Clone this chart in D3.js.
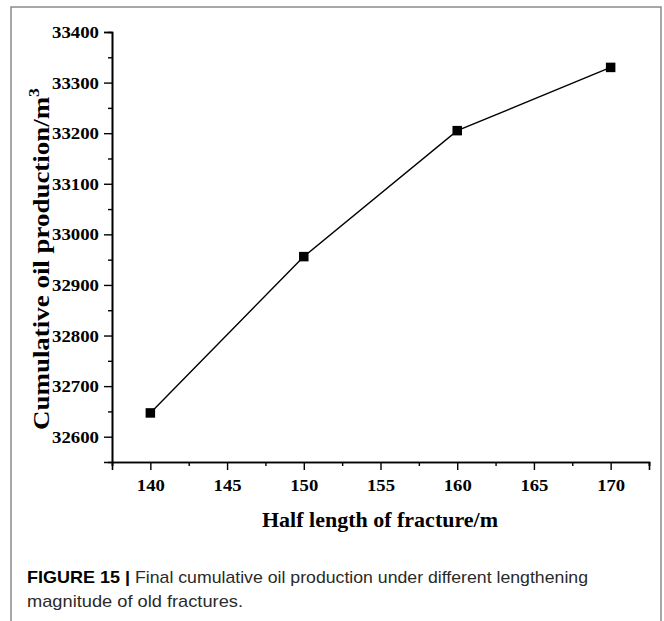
<!DOCTYPE html>
<html>
<head>
<meta charset="utf-8">
<script src="https://cdn.jsdelivr.net/npm/d3@7"></script>
<style>
  html, body { margin: 0; padding: 0; background: #fff; }
  svg { display: block; }
</style>
</head>
<body>
<svg id="chart" width="664" height="621"></svg>
<script>
// Fracture half length (m) and final cumulative oil production (m^3)
const halfLengths = [140, 150, 160, 170];
const cumulativeOil = [32647, 32956, 33205, 33330];
const xTicks = [140, 145, 150, 155, 160, 165, 170];
const yTicks = [32600, 32700, 32800, 32900, 33000, 33100, 33200, 33300, 33400];
const xMinorTicks = [137.5, 142.5, 147.5, 152.5, 157.5, 162.5, 167.5, 172.5];
const yMinorTicks = [32650, 32750, 32850, 32950, 33050, 33150, 33250, 33350];

const svg = d3.select("#chart");
const serif = "'Times New Roman', 'Liberation Serif', serif";
const sans = "Arial, 'Liberation Sans', Helvetica, sans-serif";

// Outer figure frame
svg.append("rect")
  .attr("x", 11).attr("y", 7)
  .attr("width", 650).attr("height", 640)
  .attr("fill", "none")
  .attr("stroke", "#8a8a8a")
  .attr("stroke-width", 1.5);

const x = d3.scaleLinear().domain([137.5, 172.5]).range([112, 649]);
const y = d3.scaleLinear().domain([32550, 33400]).range([462, 32]);

// Minor ticks (unlabelled)
const xMinor = svg.append("g")
  .attr("transform", `translate(0,${y.range()[0]})`)
  .call(d3.axisBottom(x).tickValues(xMinorTicks).tickSize(4).tickFormat(""));
const yMinor = svg.append("g")
  .attr("transform", `translate(${x.range()[0]},0)`)
  .call(d3.axisLeft(y).tickValues(yMinorTicks).tickSize(4).tickFormat(""));

// Major axes
const xAxis = svg.append("g")
  .attr("transform", `translate(0,${y.range()[0]})`)
  .call(d3.axisBottom(x).tickValues(xTicks).tickSize(8).tickPadding(9).tickFormat(d3.format("d")));
const yAxis = svg.append("g")
  .attr("transform", `translate(${x.range()[0]},0)`)
  .call(d3.axisLeft(y).tickValues(yTicks).tickSize(8).tickPadding(5).tickFormat(d3.format("d")));

[xMinor, yMinor, xAxis, yAxis].forEach(g => {
  g.selectAll("path.domain").attr("stroke", "#000").attr("stroke-width", 1.6);
  g.selectAll(".tick line").attr("stroke", "#000").attr("stroke-width", 1.4);
});

xAxis.selectAll(".tick text")
  .attr("font-family", serif).attr("font-weight", "bold")
  .attr("font-size", 17.5).attr("fill", "#000")
  .attr("textLength", 28).attr("lengthAdjust", "spacingAndGlyphs");
yAxis.selectAll(".tick text")
  .attr("font-family", serif).attr("font-weight", "bold")
  .attr("font-size", 17.5).attr("fill", "#000")
  .attr("textLength", 47).attr("lengthAdjust", "spacingAndGlyphs");

// Series line and square markers
const pts = halfLengths.map((h, i) => [h, cumulativeOil[i]]);
svg.append("path")
  .datum(pts)
  .attr("fill", "none")
  .attr("stroke", "#000")
  .attr("stroke-width", 1.4)
  .attr("d", d3.line().x(d => x(d[0])).y(d => y(d[1])));

const s = 9.5;
svg.selectAll("rect.marker")
  .data(pts)
  .join("rect")
  .attr("class", "marker")
  .attr("x", d => x(d[0]) - s / 2)
  .attr("y", d => y(d[1]) - s / 2)
  .attr("width", s).attr("height", s)
  .attr("fill", "#000");

// Axis titles
svg.append("text")
  .attr("x", 380).attr("y", 527)
  .attr("text-anchor", "middle")
  .attr("font-family", serif).attr("font-weight", "bold")
  .attr("font-size", 22).attr("fill", "#000")
  .text("Half length of fracture/m");

const yTitle = svg.append("text")
  .attr("text-anchor", "middle")
  .attr("font-family", serif).attr("font-weight", "bold")
  .attr("font-size", 23).attr("fill", "#000");
yTitle.append("tspan").text("Cumulative oil production/m");
yTitle.append("tspan").attr("font-size", 15).attr("dy", -10).text("3");
// stretch the rotated title along its run to span the axis height
const natural = yTitle.node().getBBox().width;
const stretch = 342 / natural;
yTitle.attr("transform", `translate(49,259) rotate(-90) scale(${stretch},1)`);

// Caption
svg.append("text")
  .attr("x", 27).attr("y", 583)
  .attr("font-family", sans).attr("font-weight", "bold")
  .attr("font-size", 17).attr("fill", "#000")
  .attr("textLength", 103).attr("lengthAdjust", "spacingAndGlyphs")
  .text("FIGURE 15 |");
svg.append("text")
  .attr("x", 135).attr("y", 583)
  .attr("font-family", sans).attr("font-size", 17).attr("fill", "#2a2a2a")
  .attr("textLength", 453).attr("lengthAdjust", "spacingAndGlyphs")
  .text("Final cumulative oil production under different lengthening");
svg.append("text")
  .attr("x", 27).attr("y", 607)
  .attr("font-family", sans).attr("font-size", 17).attr("fill", "#2a2a2a")
  .attr("textLength", 216).attr("lengthAdjust", "spacingAndGlyphs")
  .text("magnitude of old fractures.");
</script>
</body>
</html>
